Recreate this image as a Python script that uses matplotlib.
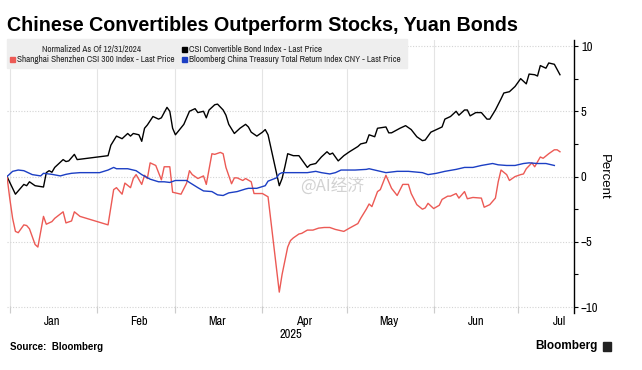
import matplotlib
matplotlib.use("Agg")
import matplotlib.pyplot as plt
import matplotlib.dates as mdates
from matplotlib.patches import Rectangle
from matplotlib.ticker import MultipleLocator
import pandas as pd

NARROW = ['Liberation Sans Narrow', 'Archivo Narrow', 'DejaVu Sans']
plt.rcParams['font.family'] = NARROW

# CSI Convertible Bond Index, % change since 12/31/2024
cb_dates = ["2024-12-31", "2025-01-03", "2025-01-06", "2025-01-07", "2025-01-08", "2025-01-10",
            "2025-01-13", "2025-01-14", "2025-01-15", "2025-01-16", "2025-01-17", "2025-01-20",
            "2025-01-21", "2025-01-22", "2025-01-24", "2025-01-25", "2025-02-05", "2025-02-06",
            "2025-02-08", "2025-02-09", "2025-02-10", "2025-02-12", "2025-02-13", "2025-02-14",
            "2025-02-16", "2025-02-17", "2025-02-18", "2025-02-19", "2025-02-21", "2025-02-23",
            "2025-02-24", "2025-02-26", "2025-02-27", "2025-02-28", "2025-03-01", "2025-03-04",
            "2025-03-06", "2025-03-08", "2025-03-09", "2025-03-11", "2025-03-12", "2025-03-13",
            "2025-03-15", "2025-03-16", "2025-03-18", "2025-03-19", "2025-03-20", "2025-03-22",
            "2025-03-24", "2025-03-26", "2025-03-27", "2025-03-28", "2025-03-30", "2025-04-01",
            "2025-04-02", "2025-04-03", "2025-04-07", "2025-04-08", "2025-04-09", "2025-04-10",
            "2025-04-12", "2025-04-14", "2025-04-15", "2025-04-17", "2025-04-18", "2025-04-20",
            "2025-04-22", "2025-04-24", "2025-04-25", "2025-04-26", "2025-04-28", "2025-04-30",
            "2025-05-02", "2025-05-05", "2025-05-06", "2025-05-08", "2025-05-09", "2025-05-11",
            "2025-05-12", "2025-05-15", "2025-05-16", "2025-05-17", "2025-05-20", "2025-05-22",
            "2025-05-24", "2025-05-26", "2025-05-28", "2025-05-29", "2025-05-31", "2025-06-02",
            "2025-06-04", "2025-06-05", "2025-06-07", "2025-06-09", "2025-06-10", "2025-06-12",
            "2025-06-13", "2025-06-14", "2025-06-16", "2025-06-18", "2025-06-20", "2025-06-21",
            "2025-06-23", "2025-06-25", "2025-06-26", "2025-06-28", "2025-06-30", "2025-07-02",
            "2025-07-04", "2025-07-05", "2025-07-07", "2025-07-08", "2025-07-09", "2025-07-11",
            "2025-07-12", "2025-07-14", "2025-07-15", "2025-07-16"]
cb_values = [0, -1.35, -0.6, -0.7, -0.4, -0.7,
             -0.8, 0.3, 0.45, 0.33, 0.7, 1.3,
             1.15, 1.2, 1.7, 1.3, 1.6, 2.4,
             3.1, 3.0, 2.9, 3.3, 3.1, 3.3,
             3.2, 2.7, 3.7, 3.95, 4.6, 4.4,
             4.5, 5.3, 5.0, 3.7, 3.2, 4.0,
             5.0, 5.2, 4.9, 5.0, 4.5, 5.1,
             5.5, 5.55, 5.1, 4.7, 4.0, 3.3,
             3.7, 4.0, 3.8, 3.4, 3.1, 3.4,
             3.6, 3.2, -0.7, -0.15, 0.75, 1.75,
             1.6, 1.6, 1.3, 0.7, 0.9, 1.0,
             1.5, 1.9, 1.7, 1.8, 1.2, 1.6,
             1.9, 2.3, 2.5, 2.6, 3.2, 3.05,
             3.7, 3.8, 3.35, 3.35, 3.7, 3.9,
             3.6, 3.05, 2.75, 2.8, 3.4, 3.6,
             3.8, 4.4, 4.6, 5.0, 4.7, 5.1,
             5.1, 4.65, 4.9, 4.9, 4.4, 4.4,
             5.1, 5.95, 6.4, 6.5, 6.9, 7.5,
             7.1, 7.85, 7.8, 7.7, 8.5, 8.3,
             8.7, 8.6, 8.2, 7.8]

# Shanghai Shenzhen CSI 300 Index
csi_dates = ["2024-12-31", "2025-01-01", "2025-01-02", "2025-01-03", "2025-01-04", "2025-01-06",
             "2025-01-07", "2025-01-08", "2025-01-10", "2025-01-11", "2025-01-13", "2025-01-14",
             "2025-01-16", "2025-01-17", "2025-01-20", "2025-01-21", "2025-01-23", "2025-01-24",
             "2025-01-26", "2025-02-05", "2025-02-07", "2025-02-08", "2025-02-10", "2025-02-11",
             "2025-02-13", "2025-02-14", "2025-02-15", "2025-02-17", "2025-02-18", "2025-02-19",
             "2025-02-20", "2025-02-22", "2025-02-24", "2025-02-25", "2025-02-27", "2025-02-28",
             "2025-03-03", "2025-03-05", "2025-03-06", "2025-03-07", "2025-03-09", "2025-03-11",
             "2025-03-12", "2025-03-14", "2025-03-15", "2025-03-17", "2025-03-18", "2025-03-19",
             "2025-03-21", "2025-03-22", "2025-03-23", "2025-03-25", "2025-03-26", "2025-03-28",
             "2025-03-29", "2025-04-01", "2025-04-03", "2025-04-07", "2025-04-08", "2025-04-10",
             "2025-04-11", "2025-04-12", "2025-04-14", "2025-04-15", "2025-04-17", "2025-04-19",
             "2025-04-21", "2025-04-23", "2025-04-25", "2025-04-27", "2025-04-30", "2025-05-02",
             "2025-05-05", "2025-05-06", "2025-05-08", "2025-05-09", "2025-05-10", "2025-05-12",
             "2025-05-13", "2025-05-15", "2025-05-17", "2025-05-19", "2025-05-21", "2025-05-23",
             "2025-05-24", "2025-05-26", "2025-05-28", "2025-05-29", "2025-05-30", "2025-06-01",
             "2025-06-03", "2025-06-04", "2025-06-06", "2025-06-07", "2025-06-09", "2025-06-10",
             "2025-06-12", "2025-06-13", "2025-06-15", "2025-06-18", "2025-06-19", "2025-06-21",
             "2025-06-23", "2025-06-24", "2025-06-25", "2025-06-27", "2025-06-28", "2025-06-30",
             "2025-07-02", "2025-07-03", "2025-07-04", "2025-07-06", "2025-07-07", "2025-07-09",
             "2025-07-10", "2025-07-12", "2025-07-14", "2025-07-15", "2025-07-16"]
csi_values = [0, -1.7, -3.2, -4.2, -4.3, -3.7,
              -3.75, -4.0, -5.2, -5.4, -3.05, -3.65,
              -3.45, -3.2, -2.7, -3.55, -3.4, -2.7,
              -3.05, -3.7, -1.0, -0.85, -1.35, -0.5,
              -0.85, -0.15, 0.15, -0.6, 0.1, -0.15,
              1.05, 0.85, -0.25, 0.75, 0.75, -1.2,
              -1.35, -0.5, 0.45, 0.15, -0.15, 0.05,
              -0.6, 1.75, 1.7, 1.85, 1.75, 0.7,
              -0.55, -0.1, -0.1, -0.3, -0.15, -0.4,
              -1.3, -1.3, -1.55, -8.85, -7.5, -5.4,
              -4.9, -4.7, -4.4, -4.35, -4.1, -4.1,
              -3.95, -3.9, -3.9, -4.05, -4.2, -3.95,
              -3.6, -3.2, -2.5, -2.1, -2.3, -1.15,
              -1.0, 0.1, -0.9, -1.45, -0.6, -0.6,
              -1.3, -2.15, -2.5, -2.4, -2.05, -2.45,
              -2.2, -1.75, -1.5, -1.5, -1.3, -1.65,
              -1.15, -1.7, -1.6, -1.65, -2.35, -2.15,
              -1.65, -0.4, 0.5, 0.15, -0.3, 0.0,
              0.15, 0.2, 0.6, 1.05, 0.75, 1.5,
              1.4, 1.75, 2.05, 2.05, 1.9]

# Bloomberg China Treasury Total Return Index CNY
tsy_dates = ["2024-12-31", "2025-01-02", "2025-01-04", "2025-01-06", "2025-01-09", "2025-01-12",
             "2025-01-13", "2025-01-16", "2025-01-19", "2025-01-21", "2025-01-23", "2025-01-26",
             "2025-02-02", "2025-02-05", "2025-02-07", "2025-02-08", "2025-02-12", "2025-02-15",
             "2025-02-17", "2025-02-20", "2025-02-23", "2025-02-25", "2025-02-27", "2025-03-01",
             "2025-03-05", "2025-03-06", "2025-03-09", "2025-03-11", "2025-03-14", "2025-03-16",
             "2025-03-18", "2025-03-20", "2025-03-23", "2025-03-26", "2025-03-27", "2025-03-30",
             "2025-04-02", "2025-04-03", "2025-04-06", "2025-04-07", "2025-04-08", "2025-04-12",
             "2025-04-15", "2025-04-17", "2025-04-20", "2025-04-22", "2025-04-25", "2025-04-27",
             "2025-04-29", "2025-05-04", "2025-05-08", "2025-05-09", "2025-05-12", "2025-05-15",
             "2025-05-19", "2025-05-23", "2025-05-28", "2025-05-30", "2025-06-02", "2025-06-05",
             "2025-06-09", "2025-06-12", "2025-06-15", "2025-06-18", "2025-06-22", "2025-06-24",
             "2025-06-27", "2025-06-30", "2025-07-03", "2025-07-05", "2025-07-08", "2025-07-11",
             "2025-07-13", "2025-07-14"]
tsy_values = [0, 0.4, 0.5, 0.45, 0.15, 0.05,
              0.25, 0.17, 0.05, 0.17, 0.25, 0.3,
              0.3, 0.5, 0.7, 0.6, 0.6, 0.45,
              0.15, -0.2, -0.4, -0.4, -0.45, -0.3,
              -0.3, -0.45, -0.85, -1.1, -1.15, -1.4,
              -1.45, -1.25, -1.15, -0.95, -0.9, -0.9,
              -0.7, -0.35, -0.1, 0.2, 0.3, 0.3,
              0.3, 0.3, 0.4, 0.3, 0.2, 0.3,
              0.5, 0.5, 0.55, 0.6, 0.45, 0.3,
              0.4, 0.4, 0.3, 0.15, 0.25, 0.4,
              0.55, 0.7, 0.7, 0.85, 1.0, 0.9,
              0.85, 0.85, 1.0, 1.05, 1.0, 1.0,
              0.9, 0.85]

series = [
    ("CSI Convertible Bond Index - Last Price", cb_dates, cb_values, "#000000"),
    ("Shanghai Shenzhen CSI 300 Index - Last Price", csi_dates, csi_values, "#ec5a55"),
    ("Bloomberg China Treasury Total Return Index CNY - Last Price", tsy_dates, tsy_values, "#1c3fc4"),
]

fig = plt.figure(figsize=(6.42, 3.70), dpi=100)
ax = fig.add_axes([7 / 642, 1 - 313 / 370, 567 / 642, 273 / 370])

for name, d, v, c in series:
    ax.plot(pd.to_datetime(d), v, color=c, lw=1.0, zorder=3)

ax.set_xlim(pd.Timestamp("2024-12-31"), pd.Timestamp("2025-07-21"))
ax.set_ylim(-10.45, 10.46)

# months: gridlines at month starts, names in the middle of each month
ax.xaxis.set_major_locator(mdates.MonthLocator())
ax.xaxis.set_major_formatter(plt.NullFormatter())
ax.xaxis.set_minor_locator(mdates.MonthLocator(bymonthday=16))
ax.xaxis.set_minor_formatter(mdates.DateFormatter("%b"))
ax.tick_params(axis="x", which="major", direction="in", length=5, color="#cccccc")
ax.tick_params(axis="x", which="minor", length=0, labelsize=9, pad=2)
ax.grid(axis="x", which="major", color="#e4e4e4", lw=0.8)
ax.grid(axis="y", which="major", color="#d4d4d4", lw=0.8, ls=(0, (1, 1.5)))

ax.yaxis.tick_right()
ax.yaxis.set_label_position("right")
ax.yaxis.set_major_locator(MultipleLocator(5))
ax.yaxis.set_minor_locator(MultipleLocator(2.5))
ax.tick_params(axis="y", which="both", length=3, width=0.8, color="black", labelsize=9, pad=2)
ax.set_ylabel("Percent", rotation=270, labelpad=8, fontsize=9.5, family="Liberation Sans")

for s in ["top", "left", "bottom"]:
    ax.spines[s].set_visible(False)
ax.spines["right"].set_linewidth(1.0)

ax.text(pd.Timestamp("2025-04-11"), -0.077, "2025", transform=ax.get_xaxis_transform(),
        ha="center", va="center", fontsize=9)

# legend block
fig.add_artist(Rectangle((7 / 642, 1 - 68 / 370), 400 / 642, 29 / 370,
                         transform=fig.transFigure, color="#eeeeee", zorder=5))
fig.text(92 / 642, 1 - 49 / 370, "Normalized As Of 12/31/2024", ha="center", va="center",
         fontsize=6.6, color="#222222", zorder=6)
legend_pos = [(182, 49), (10, 59.5), (182, 59.5)]
for (name, d, v, c), (lx, ly) in zip(series, legend_pos):
    fig.add_artist(Rectangle((lx / 642, 1 - (ly + 2.5) / 370), 5 / 642, 5 / 370,
                             transform=fig.transFigure, color=c, zorder=6))
    fig.text((lx + 7) / 642, 1 - ly / 370, name, ha="left", va="center",
             fontsize=6.6, color="#222222", zorder=6)

fig.text(7 / 642, 1 - 31 / 370, "Chinese Convertibles Outperform Stocks, Yuan Bonds",
         ha="left", va="baseline", fontsize=14.2, fontweight="bold", family="Liberation Sans")
fig.text(10 / 642, 1 - 347 / 370, "Source:  Bloomberg", ha="left", va="center",
         fontsize=7, fontweight="bold", family="Liberation Sans")
fig.text(598 / 642, 1 - 346 / 370, "Bloomberg", ha="right", va="center",
         fontsize=8.5, fontweight="bold", family="Liberation Sans")
fig.add_artist(Rectangle((603 / 642, 1 - 351 / 370), 8 / 642, 9 / 370,
                         transform=fig.transFigure, color="#222222", zorder=6))

# watermark
fig.text(300 / 642, 1 - 186 / 370, "@AI经济", ha="left", va="center", fontsize=12,
         color="#d2d2d2", family=["Noto Sans CJK SC", "DejaVu Sans"], zorder=6)

fig.savefig("out.png", dpi=100)
